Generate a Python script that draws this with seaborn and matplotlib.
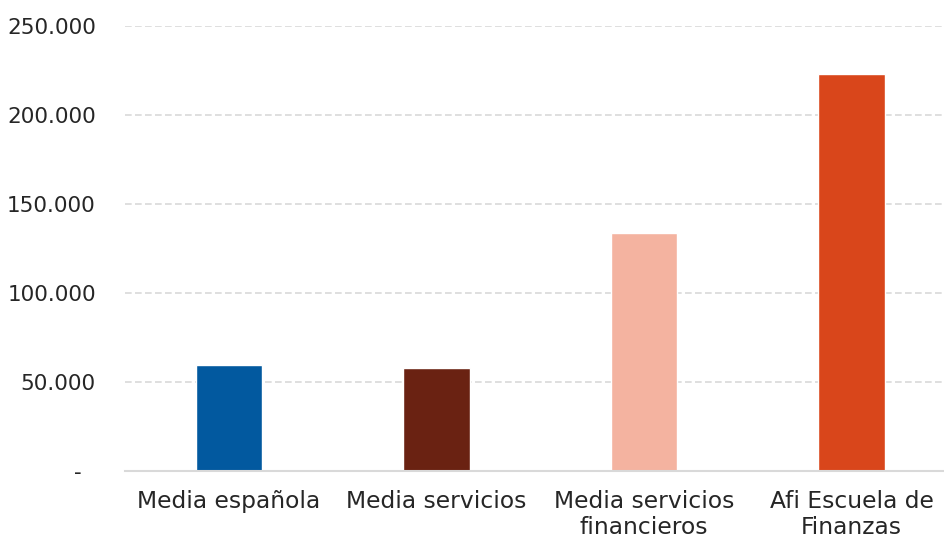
import matplotlib
matplotlib.use("Agg")
import matplotlib.pyplot as plt
import matplotlib.ticker as mticker
import seaborn as sns
import pandas as pd

# data
categorias = ["Media española", "Media servicios", "Media servicios\nfinancieros", "Afi Escuela de\nFinanzas"]
valores = [59700, 57600, 133500, 222900]
colores = ["#02599f", "#6a2212", "#f4b3a0", "#d9461b"]
yticks = [0, 50000, 100000, 150000, 200000, 250000]

df = pd.DataFrame({"categoria": categorias, "valor": valores})

sns.set_theme(style="white")
plt.rcParams["font.family"] = ["DejaVu Sans"]

fig = plt.figure(figsize=(9.45, 5.4), dpi=100)
ax = fig.add_axes([125 / 945, 69 / 540, 820 / 945, 445 / 540])

sns.barplot(data=df, x="categoria", y="valor", hue="categoria",
            palette=colores, legend=False, width=0.32, saturation=1, ax=ax)

ax.set_xlim(-0.5, 3.45)
ax.set_ylim(0, 250000)
ax.set_yticks(yticks)


def fmt(v, pos):
    if v == 0:
        return "-  "
    return f"{int(v):,}".replace(",", ".")


ax.yaxis.set_major_formatter(mticker.FuncFormatter(fmt))
ax.grid(axis="y", color="#d9d9d9", linestyle=(0, (4, 2)), linewidth=1.2)
ax.set_axisbelow(True)
for s in ["top", "right", "left"]:
    ax.spines[s].set_visible(False)
ax.spines["bottom"].set_color("#d9d9d9")
ax.spines["bottom"].set_linewidth(1.5)

ax.tick_params(axis="both", length=0, colors="#262626")
ax.tick_params(axis="y", pad=21, labelsize=15.5)
ax.tick_params(axis="x", pad=14, labelsize=16.8)
ax.set_xlabel("")
ax.set_ylabel("")
for lab in ax.get_xticklabels():
    lab.set_linespacing(1.15)

fig.savefig("out.png", dpi=100)
